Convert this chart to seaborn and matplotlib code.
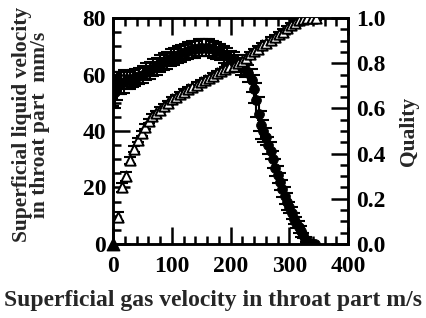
import numpy as np
import pandas as pd
import matplotlib
matplotlib.use("Agg")
import matplotlib.pyplot as plt
import seaborn as sns
from matplotlib.ticker import MultipleLocator

# -------------------------------
# Data
# -------------------------------
# superficial liquid velocity (mm/s) vs gas velocity (m/s), filled circles
liq_x = [0, 3, 6, 10, 14, 18, 23, 28, 33, 38, 44, 50, 56, 62, 68, 74, 80, 86, 92, 98,
         104, 110, 116, 122, 128, 134, 140, 146, 152, 158, 164, 170, 176, 182, 188, 194,
         200, 206, 212, 218, 224, 230, 236, 240, 244, 248, 252, 256, 260, 264, 268, 272,
         276, 280, 284, 288, 292, 296, 300, 304, 308, 312, 316, 320, 324, 328, 332, 336,
         340, 344]
liq_y = [55, 54, 56, 57, 57, 57.5, 58, 58, 58.5, 59, 59.5, 60, 61, 61.5, 62.5, 63, 64, 64.5,
         65, 66, 66.5, 67, 67.5, 68, 68.5, 69, 69, 69.5, 69.5, 69.5, 69.5, 69, 68.5, 68, 67,
         66.5, 65.5, 65, 64, 63, 62, 60.5, 58, 55, 51, 46, 42, 40, 38, 35, 33, 30, 27, 24.5,
         22, 19.5, 17, 15, 13, 11, 9, 7.5, 6, 4.5, 3, 1.5, 0.5, 0, 0, 0]
liq_err = [6, 6, 5, 4, 4, 4, 3, 3, 3, 3, 3, 3, 3, 3, 3, 3, 3, 3, 3, 3, 3, 3, 3, 3, 3, 3,
           3, 3, 3, 3, 3, 3, 3, 3, 3, 3, 3, 3, 3, 3, 3, 3, 4, 5, 6, 6, 5, 4, 3, 3, 3, 3,
           3, 3, 3, 3, 3, 3, 2, 2, 2, 2, 2, 2, 1, 1, 0, 0, 0, 0]

# quality vs gas velocity, open triangles (right axis)
qual_x = [8, 15, 22, 29, 36, 43, 49, 55, 61, 67, 73, 79, 86, 93, 100, 107, 114, 121, 128,
          135, 142, 149, 156, 163, 170, 177, 184, 191, 198, 205, 212, 219, 226, 233, 240,
          247, 254, 261, 268, 275, 282, 289, 296, 303, 310, 317, 324, 331, 338, 345]
qual_y = [0.12, 0.25, 0.30, 0.37, 0.42, 0.46, 0.49, 0.52, 0.545, 0.565, 0.58, 0.595, 0.61,
          0.625, 0.64, 0.65, 0.665, 0.675, 0.685, 0.695, 0.705, 0.715, 0.725, 0.735, 0.745,
          0.755, 0.765, 0.775, 0.785, 0.79, 0.80, 0.81, 0.825, 0.84, 0.855, 0.865, 0.88,
          0.89, 0.905, 0.915, 0.93, 0.94, 0.955, 0.97, 0.98, 0.99, 0.995, 1.0, 1.0, 1.0]
qual_err = [0.02, 0.02, 0.02, 0.015, 0.015, 0.01, 0.01, 0.01, 0.01, 0.01, 0.01, 0.01, 0.01,
            0.01, 0.01, 0.01, 0.01, 0.01, 0.01, 0.01, 0.01, 0.01, 0.01, 0.01, 0.01, 0.01,
            0.01, 0.01, 0.01, 0.01, 0.01, 0.01, 0.01, 0.01, 0.01, 0.01, 0.01, 0.01, 0.01,
            0.01, 0.01, 0.01, 0.01, 0.01, 0.01, 0.01, 0.01, 0.01, 0.01, 0.01]

# zero-flow point at the origin (filled triangle)
origin_x = [0]
origin_q = [0.0]

liq = pd.DataFrame({"ug": liq_x, "ul": liq_y, "err": liq_err})
qual = pd.DataFrame({"ug": qual_x, "x": qual_y, "err": qual_err})

# -------------------------------
# Style
# -------------------------------
sns.set_style("ticks")
plt.rcParams["font.family"] = ["Liberation Serif", "DejaVu Serif"]
plt.rcParams["font.weight"] = "bold"
plt.rcParams["axes.labelweight"] = "bold"

fig = plt.figure(figsize=(4.27, 3.18), dpi=100)
ax = fig.add_axes([0.265, 0.233, 0.550, 0.710])
ax2 = ax.twinx()

# liquid velocity with error bars
ax.errorbar(liq["ug"], liq["ul"], yerr=liq["err"], fmt="none", ecolor="black",
            elinewidth=1.5, capsize=4.5, capthick=1.5, zorder=3)
sns.scatterplot(data=liq, x="ug", y="ul", ax=ax, marker="o", s=50, color="black",
                edgecolor="black", zorder=4, legend=False)

# quality
ax2.errorbar(qual["ug"], qual["x"], yerr=qual["err"], fmt="none", ecolor="black",
             elinewidth=1.2, capsize=4, capthick=1.5, zorder=3)
sns.scatterplot(data=qual, x="ug", y="x", ax=ax2, marker="^", s=55, facecolor="white",
                edgecolor="black", linewidth=1.4, zorder=4, legend=False)
ax2.scatter(origin_x, origin_q, marker="^", s=80, color="black", zorder=5, clip_on=False)

# -------------------------------
# Axes
# -------------------------------
ax.set_xlim(0, 400)
ax.set_ylim(0, 80)
ax2.set_ylim(0, 1.0)
ax.xaxis.set_major_locator(MultipleLocator(100))
ax.xaxis.set_minor_locator(MultipleLocator(20))
ax.yaxis.set_major_locator(MultipleLocator(20))
ax.yaxis.set_minor_locator(MultipleLocator(5))
ax2.yaxis.set_major_locator(MultipleLocator(0.2))
ax2.yaxis.set_minor_locator(MultipleLocator(0.05))
ax2.set_yticklabels([f"{v:.1f}" for v in ax2.get_yticks()])

for a in (ax, ax2):
    for s in a.spines.values():
        s.set_linewidth(1.8)
        s.set_visible(True)
        s.set_color("black")

ax.tick_params(axis="x", which="both", direction="in", top=True, bottom=True,
               labelsize=17, pad=9, width=1.8, colors="black")
ax.tick_params(axis="y", which="both", direction="in", left=True, right=False,
               labelsize=17, pad=5, width=1.8, colors="black")
ax.tick_params(which="major", length=12)
ax.tick_params(which="minor", length=6)
ax2.tick_params(axis="y", which="both", direction="in", right=True, left=False,
                labelsize=17, pad=6, width=1.8, colors="black")
ax2.tick_params(which="major", length=12)
ax2.tick_params(which="minor", length=6)

ax.set_xlabel("Superficial gas velocity in throat part m/s", fontsize=17)
ax.xaxis.label.set_va("center")
ax.xaxis.set_label_coords(0.426, -0.252)

ax.set_ylabel("Superficial liquid velocity\nin throat part  mm/s", fontsize=15.5,
              linespacing=0.85)
ax.yaxis.label.set_va("center")
ax.yaxis.set_label_coords(-0.349, 0.527)

ax2.set_ylabel("Quality", fontsize=15.5)
ax2.yaxis.label.set_va("center")
ax2.yaxis.set_label_coords(1.26, 0.50)

fig.savefig("out.png", dpi=100)
